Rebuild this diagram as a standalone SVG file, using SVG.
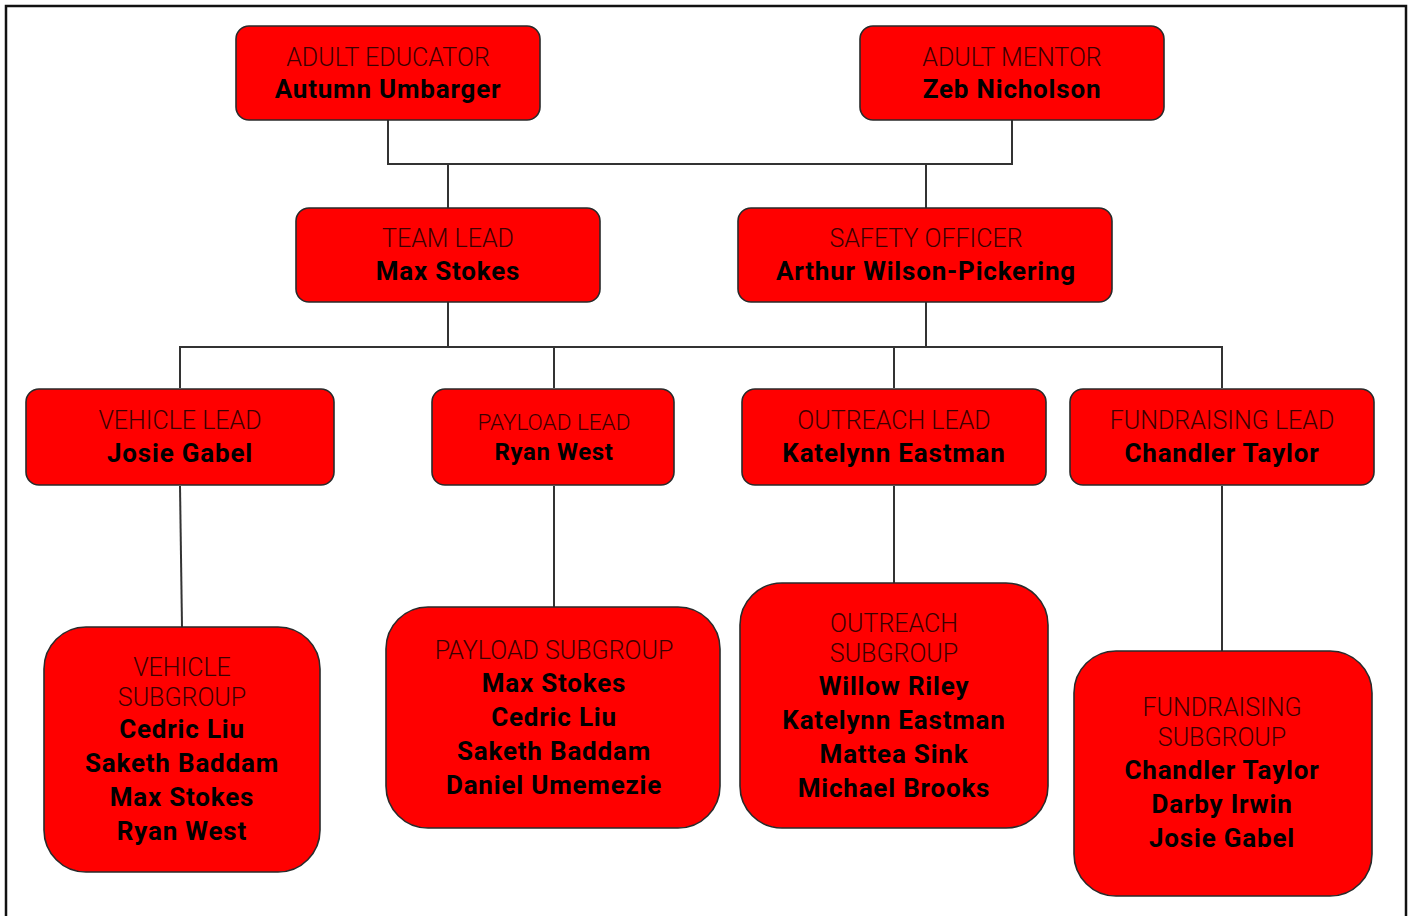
<svg xmlns="http://www.w3.org/2000/svg" width="1413" height="916" viewBox="0 0 1413 916">
<style>
.box{fill:#ff0000;stroke:#2a2a2a;stroke-width:1.6}
.lbl{font-family:Roboto,"Liberation Sans",sans-serif;font-weight:300;font-size:25px;fill:#3c0000;text-anchor:middle}
.nm{font-family:Roboto,"Liberation Sans",sans-serif;font-weight:700;font-size:26px;letter-spacing:0.8px;fill:#000;text-anchor:middle}
.lbl.sm{font-size:22.5px}
.nm.sm{font-size:24px;letter-spacing:0.6px}
.conn{fill:none;stroke:#333;stroke-width:2}
</style>
<rect x="6" y="6" width="1400" height="940" fill="#fff" stroke="#111" stroke-width="2.5"/>
<g id="connectors" class="conn">
<path d="M388 120V164H1012V120"/>
<path d="M448 164V208"/>
<path d="M926 164V208"/>
<path d="M448 302V347"/>
<path d="M926 302V347"/>
<path d="M180 388V347H1222V388"/>
<path d="M554 347V388"/>
<path d="M894 347V388"/>
<path d="M180 486L182 627"/>
<path d="M554 486V607"/>
<path d="M894 486V583"/>
<path d="M1222 486V651"/>
</g>
<g id="adult-educator">
<rect class="box" x="236" y="26" width="304" height="94" rx="13"/>
<text class="lbl" x="388" y="66">ADULT EDUCATOR</text>
<text class="nm" x="388" y="98">Autumn Umbarger</text>
</g>
<g id="adult-mentor">
<rect class="box" x="860" y="26" width="304" height="94" rx="13"/>
<text class="lbl" x="1012" y="66">ADULT MENTOR</text>
<text class="nm" x="1012" y="98">Zeb Nicholson</text>
</g>
<g id="team-lead">
<rect class="box" x="296" y="208" width="304" height="94" rx="13"/>
<text class="lbl" x="448" y="247">TEAM LEAD</text>
<text class="nm" x="448" y="280">Max Stokes</text>
</g>
<g id="safety-officer">
<rect class="box" x="738" y="208" width="374" height="94" rx="13"/>
<text class="lbl" x="926" y="247">SAFETY OFFICER</text>
<text class="nm" x="926" y="280">Arthur Wilson-Pickering</text>
</g>
<g id="vehicle-lead">
<rect class="box" x="26" y="389" width="308" height="96" rx="13"/>
<text class="lbl" x="180" y="429">VEHICLE LEAD</text>
<text class="nm" x="180" y="462">Josie Gabel</text>
</g>
<g id="payload-lead">
<rect class="box" x="432" y="389" width="242" height="96" rx="13"/>
<text class="lbl sm" x="554" y="430">PAYLOAD LEAD</text>
<text class="nm sm" x="554" y="460">Ryan West</text>
</g>
<g id="outreach-lead">
<rect class="box" x="742" y="389" width="304" height="96" rx="13"/>
<text class="lbl" x="894" y="429">OUTREACH LEAD</text>
<text class="nm" x="894" y="462">Katelynn Eastman</text>
</g>
<g id="fundraising-lead">
<rect class="box" x="1070" y="389" width="304" height="96" rx="13"/>
<text class="lbl" x="1222" y="429">FUNDRAISING LEAD</text>
<text class="nm" x="1222" y="462">Chandler Taylor</text>
</g>
<g id="vehicle-subgroup">
<rect class="box" x="44" y="627" width="276" height="245" rx="42"/>
<text class="lbl" x="182" y="676">VEHICLE</text>
<text class="lbl" x="182" y="706">SUBGROUP</text>
<text class="nm" x="182" y="738">Cedric Liu</text>
<text class="nm" x="182" y="772">Saketh Baddam</text>
<text class="nm" x="182" y="806">Max Stokes</text>
<text class="nm" x="182" y="840">Ryan West</text>
</g>
<g id="payload-subgroup">
<rect class="box" x="386" y="607" width="334" height="221" rx="42"/>
<text class="lbl" x="554" y="659">PAYLOAD SUBGROUP</text>
<text class="nm" x="554" y="692">Max Stokes</text>
<text class="nm" x="554" y="726">Cedric Liu</text>
<text class="nm" x="554" y="760">Saketh Baddam</text>
<text class="nm" x="554" y="794">Daniel Umemezie</text>
</g>
<g id="outreach-subgroup">
<rect class="box" x="740" y="583" width="308" height="245" rx="42"/>
<text class="lbl" x="894" y="632">OUTREACH</text>
<text class="lbl" x="894" y="662">SUBGROUP</text>
<text class="nm" x="894" y="695">Willow Riley</text>
<text class="nm" x="894" y="729">Katelynn Eastman</text>
<text class="nm" x="894" y="763">Mattea Sink</text>
<text class="nm" x="894" y="797">Michael Brooks</text>
</g>
<g id="fundraising-subgroup">
<rect class="box" x="1074" y="651" width="298" height="245" rx="42"/>
<text class="lbl" x="1222" y="716">FUNDRAISING</text>
<text class="lbl" x="1222" y="746">SUBGROUP</text>
<text class="nm" x="1222" y="779">Chandler Taylor</text>
<text class="nm" x="1222" y="813">Darby Irwin</text>
<text class="nm" x="1222" y="847">Josie Gabel</text>
</g>
</svg>
